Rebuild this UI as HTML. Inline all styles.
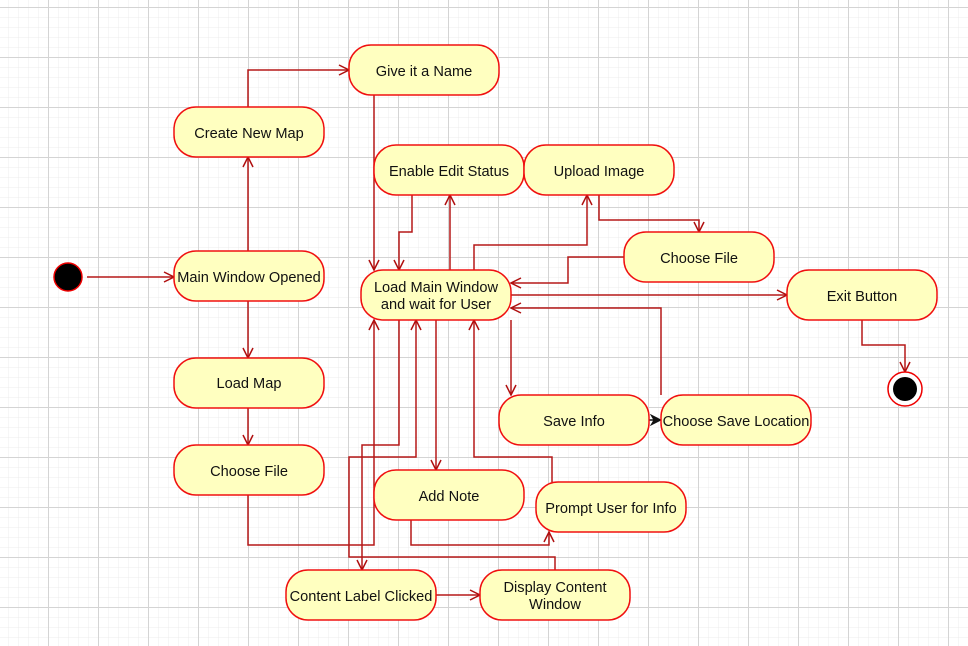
<!DOCTYPE html>
<html><head><meta charset="utf-8"><style>
html,body{margin:0;padding:0;background:#fff;}
svg{display:block}
text{font-family:"Liberation Sans",sans-serif;font-size:14.6px;fill:#111;text-anchor:middle;}
</style></head><body>
<svg width="968" height="646" viewBox="0 0 968 646" xmlns="http://www.w3.org/2000/svg">
<defs>
<pattern id="minor" x="8" y="7" width="10" height="10" patternUnits="userSpaceOnUse">
<path d="M0 0H10M0 0V10" stroke="#ececec" stroke-width="1" fill="none"/>
</pattern>
<pattern id="major" x="-2" y="7" width="50" height="50" patternUnits="userSpaceOnUse">
<path d="M0 0.5H50M0.5 0V50" stroke="#d4d4d4" stroke-width="1" fill="none"/>
</pattern>
<marker id="a" viewBox="0 0 12 12" refX="11" refY="6" markerWidth="12" markerHeight="12" markerUnits="userSpaceOnUse" orient="auto">
<path d="M1 1L11 6L1 11" fill="none" stroke="#b01010" stroke-width="1.5"/>
</marker>
<marker id="f" viewBox="0 0 12 12" refX="11" refY="6" markerWidth="12" markerHeight="12" markerUnits="userSpaceOnUse" orient="auto">
<path d="M1 1L11 6L1 11L4 6Z" fill="#111" stroke="#111"/>
</marker>
</defs>
<rect width="968" height="646" fill="url(#minor)"/>
<rect width="968" height="646" fill="url(#major)"/>

<g fill="none" stroke="#b51818" stroke-width="1.5" marker-end="url(#a)">
<path d="M87 277H174"/>
<path d="M248 251V157"/>
<path d="M248 107V70H349"/>
<path d="M248 301V358"/>
<path d="M248 408V445"/>
<path d="M248 495V545H374V320"/>
<path d="M374 95V270"/>
<path d="M412 195V232H399V270"/>
<path d="M450 270V195"/>
<path d="M474 270V245H587V195"/>
<path d="M599 195V220H699V232"/>
<path d="M624 257H568V283H511"/>
<path d="M511 295H787"/>
<path d="M862 320V345H905V372"/>
<path d="M399 320V445H362V570"/>
<path d="M555 570V557H349V457H416V320"/>
<path d="M436 320V470"/>
<path d="M552 482V457H474V320"/>
<path d="M411 520V545H549V532"/>
<path d="M511 320V395"/>
<path d="M661 395V308H511"/>
<path d="M436 595H480"/>
</g>
<path d="M649 420H661" stroke="#111" stroke-width="1.5" marker-end="url(#f)"/>

<circle cx="68" cy="277" r="14" fill="#000" stroke="#e00" stroke-width="1.5"/>
<circle cx="905" cy="389" r="17" fill="#fff" stroke="#e00" stroke-width="1.5"/>
<circle cx="905" cy="389" r="12" fill="#000"/>

<g fill="#ffffc0" stroke="#f01010" stroke-width="1.5">
<rect x="174" y="251" width="150" height="50" rx="22"/>
<rect x="174" y="107" width="150" height="50" rx="22"/>
<rect x="349" y="45" width="150" height="50" rx="22"/>
<rect x="374" y="145" width="150" height="50" rx="22"/>
<rect x="524" y="145" width="150" height="50" rx="22"/>
<rect x="624" y="232" width="150" height="50" rx="22"/>
<rect x="361" y="270" width="150" height="50" rx="22"/>
<rect x="787" y="270" width="150" height="50" rx="22"/>
<rect x="174" y="358" width="150" height="50" rx="22"/>
<rect x="174" y="445" width="150" height="50" rx="22"/>
<rect x="499" y="395" width="150" height="50" rx="22"/>
<rect x="661" y="395" width="150" height="50" rx="22"/>
<rect x="374" y="470" width="150" height="50" rx="22"/>
<rect x="536" y="482" width="150" height="50" rx="22"/>
<rect x="286" y="570" width="150" height="50" rx="22"/>
<rect x="480" y="570" width="150" height="50" rx="22"/>
</g>

<text x="249" y="282">Main Window Opened</text>
<text x="249" y="138">Create New Map</text>
<text x="424" y="76">Give it a Name</text>
<text x="449" y="176">Enable Edit Status</text>
<text x="599" y="176">Upload Image</text>
<text x="699" y="263">Choose File</text>
<text x="436" y="292">Load Main Window</text>
<text x="436" y="309">and wait for User</text>
<text x="862" y="301">Exit Button</text>
<text x="249" y="388">Load Map</text>
<text x="249" y="476">Choose File</text>
<text x="574" y="426">Save Info</text>
<text x="736" y="426">Choose Save Location</text>
<text x="449" y="501">Add Note</text>
<text x="611" y="513">Prompt User for Info</text>
<text x="361" y="601">Content Label Clicked</text>
<text x="555" y="592">Display Content</text>
<text x="555" y="609">Window</text>
</svg>
</body></html>
